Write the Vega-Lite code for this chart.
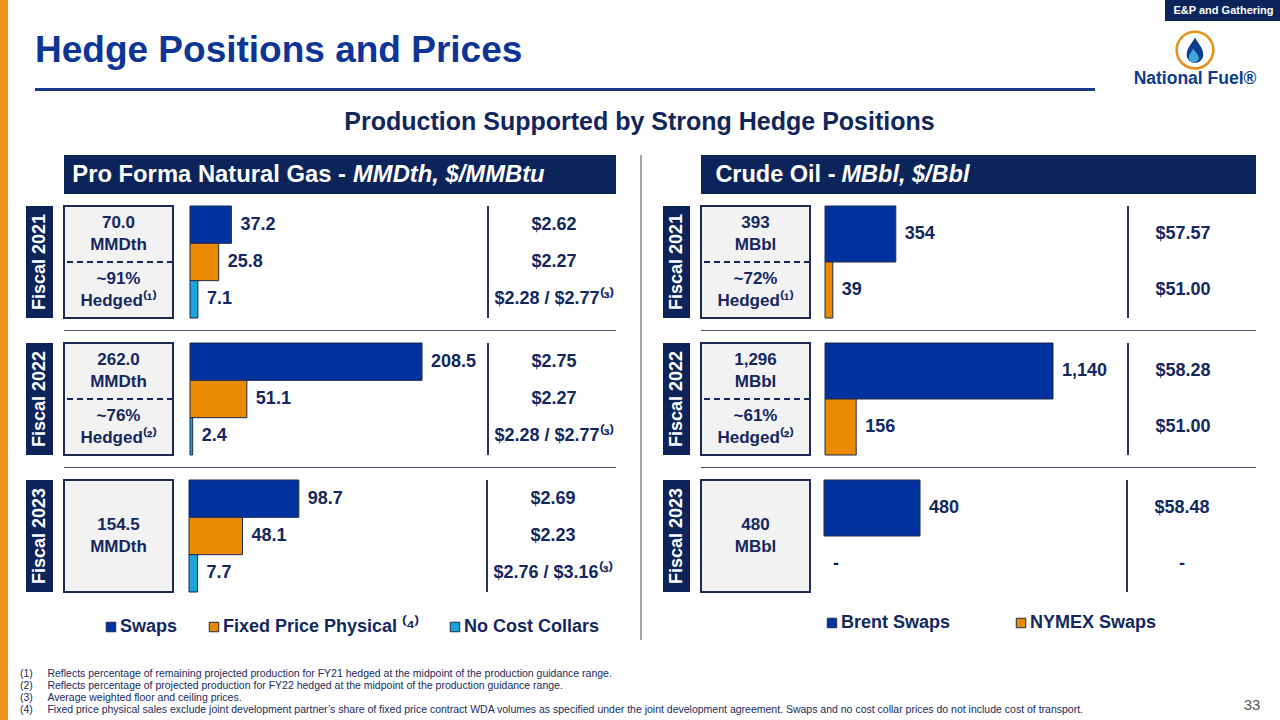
{
 "$schema": "https://vega.github.io/schema/vega-lite/v6.json",
 "padding": 0,
 "background": "white",
 "config": {"view": {"stroke": null}, "font": "Liberation Sans", "concat": {"spacing": 0}},
 "datasets": {
  "gas": [
   {"year": "Fiscal 2021", "series": "Swaps", "volume": 37.2, "price": "$2.62"},
   {"year": "Fiscal 2021", "series": "Fixed Price Physical", "volume": 25.8, "price": "$2.27"},
   {"year": "Fiscal 2021", "series": "No Cost Collars", "volume": 7.1, "price": "$2.28 / $2.77\u207d\u00b3\u207e"},
   {"year": "Fiscal 2022", "series": "Swaps", "volume": 208.5, "price": "$2.75"},
   {"year": "Fiscal 2022", "series": "Fixed Price Physical", "volume": 51.1, "price": "$2.27"},
   {"year": "Fiscal 2022", "series": "No Cost Collars", "volume": 2.4, "price": "$2.28 / $2.77\u207d\u00b3\u207e"},
   {"year": "Fiscal 2023", "series": "Swaps", "volume": 98.7, "price": "$2.69"},
   {"year": "Fiscal 2023", "series": "Fixed Price Physical", "volume": 48.1, "price": "$2.23"},
   {"year": "Fiscal 2023", "series": "No Cost Collars", "volume": 7.7, "price": "$2.76 / $3.16\u207d\u00b3\u207e"}
  ],
  "oil": [
   {"year": "Fiscal 2021", "series": "Brent Swaps", "volume": 354, "price": "$57.57"},
   {"year": "Fiscal 2021", "series": "NYMEX Swaps", "volume": 39, "price": "$51.00"},
   {"year": "Fiscal 2022", "series": "Brent Swaps", "volume": 1140, "price": "$58.28"},
   {"year": "Fiscal 2022", "series": "NYMEX Swaps", "volume": 156, "price": "$51.00"},
   {"year": "Fiscal 2023", "series": "Brent Swaps", "volume": 480, "price": "$58.48"},
   {"year": "Fiscal 2023", "series": "NYMEX Swaps", "volume": 0, "price": "-"}
  ],
  "boxes": [
   {"panel": "gas", "year": "Fiscal 2021", "slot": "top", "text": "70.0\nMMDth"},
   {"panel": "gas", "year": "Fiscal 2021", "slot": "bottom", "text": "~91%\nHedged\u207d\u00b9\u207e"},
   {"panel": "gas", "year": "Fiscal 2022", "slot": "top", "text": "262.0\nMMDth"},
   {"panel": "gas", "year": "Fiscal 2022", "slot": "bottom", "text": "~76%\nHedged\u207d\u00b2\u207e"},
   {"panel": "gas", "year": "Fiscal 2023", "slot": "all", "text": "154.5\nMMDth"},
   {"panel": "oil", "year": "Fiscal 2021", "slot": "top", "text": "393\nMBbl"},
   {"panel": "oil", "year": "Fiscal 2021", "slot": "bottom", "text": "~72%\nHedged\u207d\u00b9\u207e"},
   {"panel": "oil", "year": "Fiscal 2022", "slot": "top", "text": "1,296\nMBbl"},
   {"panel": "oil", "year": "Fiscal 2022", "slot": "bottom", "text": "~61%\nHedged\u207d\u00b2\u207e"},
   {"panel": "oil", "year": "Fiscal 2023", "slot": "all", "text": "480\nMBbl"}
  ],
  "years": [{"year": "Fiscal 2021"}, {"year": "Fiscal 2022"}, {"year": "Fiscal 2023"}],
  "notes": [
   {"k": "1", "note": "(1)\u00a0\u00a0\u00a0\u00a0\u00a0Reflects percentage of remaining projected production for FY21 hedged at the midpoint of the production guidance range."},
   {"k": "2", "note": "(2)\u00a0\u00a0\u00a0\u00a0\u00a0Reflects percentage of projected production for FY22 hedged at the midpoint of the production guidance range."},
   {"k": "3", "note": "(3)\u00a0\u00a0\u00a0\u00a0\u00a0Average weighted floor and ceiling prices."},
   {"k": "4", "note": "(4)\u00a0\u00a0\u00a0\u00a0\u00a0Fixed price physical sales exclude joint development partner\u2019s share of fixed price contract WDA volumes as specified under the joint development agreement. Swaps and no cost collar prices do not include cost of transport."}
  ]
 },
 "hconcat": [
  {"width": 8, "height": 720, "view": {"fill": "#f0921a", "stroke": null}, "data": {"values": []}, "mark": "text"},
  {
   "vconcat": [
    {"hconcat": [
      {"width": 1113, "height": 88, "data": {"values": [{"t": "Hedge Positions and Prices"}]},
       "mark": {"type": "text", "align": "left", "baseline": "alphabetic", "dx": -541.5, "dy": 18, "fontSize": 37, "fontWeight": "bold", "color": "#0d3597"},
       "encoding": {"text": {"field": "t", "type": "nominal"}}},
      {"vconcat": [
        {"hconcat": [
          {"width": 30, "height": 21, "data": {"values": []}, "mark": "text"},
          {"width": 117, "height": 21, "view": {"fill": "#0c2459", "stroke": null}, "data": {"values": [{"t": "E&P and Gathering"}]}, "mark": {"type": "text", "fontSize": 11, "fontWeight": "bold", "color": "white"}, "encoding": {"text": {"field": "t", "type": "nominal"}}}
        ], "spacing": 0},
        {"width": 120, "height": 56,
         "data": {"values": [{"part": "icon"}, {"part": "name", "label": "National Fuel\u00ae"}]},
         "encoding": {"y": {"field": "part", "type": "nominal", "scale": {"type": "point", "domain": ["icon", "name"], "padding": 0.466, "align": 0.852}, "axis": null}},
         "layer": [
          {"transform": [{"filter": "datum.part == 'icon'"}], "mark": {"type": "point", "shape": "circle", "filled": false, "size": 1350, "color": "#e8901e", "strokeWidth": 2.5, "opacity": 1}},
          {"transform": [{"filter": "datum.part == 'icon'"}], "mark": {"type": "point", "shape": "M0,-1 C0.15,-0.6 0.65,-0.2 0.65,0.35 C0.65,0.75 0.35,1 0,1 C-0.35,1 -0.65,0.75 -0.65,0.35 C-0.65,-0.2 -0.15,-0.6 0,-1 Z", "filled": true, "size": 650, "color": "#0d3b8e", "opacity": 1}},
          {"transform": [{"filter": "datum.part == 'icon'"}], "mark": {"type": "point", "shape": "M-0.12,-0.15 C-0.05,0.15 0.3,0.35 0.3,0.6 C0.3,0.82 0.12,0.95 -0.1,0.95 C-0.32,0.95 -0.48,0.8 -0.48,0.58 C-0.48,0.3 -0.2,0.1 -0.12,-0.15 Z", "filled": true, "size": 650, "color": "#41a8df", "opacity": 1}},
          {"transform": [{"filter": "datum.part == 'name'"}], "mark": {"type": "text", "fontSize": 17.5, "fontWeight": "bold", "color": "#0d3b8e"}, "encoding": {"text": {"field": "label", "type": "nominal"}}}
         ]}
      ], "spacing": 5}
    ], "spacing": 0},
    {"hconcat": [
      {"width": 7, "height": 3, "data": {"values": []}, "mark": "text"},
      {"width": 1060, "height": 3, "view": {"fill": "#1b3a8a", "stroke": null}, "data": {"values": []}, "mark": "text"}
    ], "spacing": 8},
    {"width": 1239, "height": 64, "data": {"values": [{"t": "Production Supported by Strong Hedge Positions"}]},
     "mark": {"type": "text", "baseline": "alphabetic", "dy": 7, "fontSize": 25, "fontWeight": "bold", "color": "#13265c"},
     "encoding": {"text": {"field": "t", "type": "nominal"}}},
    {"hconcat": [
     {"width": 1, "height": 1, "data": {"values": []}, "mark": "text"},
     {
     "resolve": {"scale": {"color": "independent"}},
     "spacing": 21,
     "hconcat": [
      {"hconcat": [
        {"vconcat": [
          {"width": 27, "height": 26, "data": {"values": []}, "mark": "text"},
          {"width": 27, "height": 112, "view": {"fill": "#0c2459", "stroke": null}, "data": {"name": "years"}, "transform": [{"filter": "datum.year == 'Fiscal 2021'"}], "mark": {"type": "text", "angle": 270, "fontSize": 18, "fontWeight": "bold", "color": "white"}, "encoding": {"text": {"field": "year", "type": "nominal"}}},
          {"width": 27, "height": 112, "view": {"fill": "#0c2459", "stroke": null}, "data": {"name": "years"}, "transform": [{"filter": "datum.year == 'Fiscal 2022'"}], "mark": {"type": "text", "angle": 270, "fontSize": 18, "fontWeight": "bold", "color": "white"}, "encoding": {"text": {"field": "year", "type": "nominal"}}},
          {"width": 27, "height": 112, "view": {"fill": "#0c2459", "stroke": null}, "data": {"name": "years"}, "transform": [{"filter": "datum.year == 'Fiscal 2023'"}], "mark": {"type": "text", "angle": 270, "fontSize": 18, "fontWeight": "bold", "color": "white"}, "encoding": {"text": {"field": "year", "type": "nominal"}}}
        ], "spacing": 25},
        {"vconcat": [
          {"width": 552, "height": 39, "view": {"fill": "#0c2459", "stroke": null}, "data": {"values": [{"a": "Pro Forma Natural Gas -", "b": "MMDth, $/MMBtu"}]},
           "layer": [
            {"mark": {"type": "text", "align": "right", "dx": 6, "fontSize": 23.8, "fontWeight": "bold", "color": "white"}, "encoding": {"text": {"field": "a", "type": "nominal"}}},
            {"mark": {"type": "text", "align": "left", "dx": 13, "fontSize": 23.8, "fontWeight": "bold", "fontStyle": "italic", "color": "white"}, "encoding": {"text": {"field": "b", "type": "nominal"}}}
           ]},
          {"hconcat": [
            {"width": 109, "height": 112, "view": {"fill": "#f2f2f2", "stroke": "#1c2a55", "strokeWidth": 2}, "data": {"name": "boxes"},
             "transform": [{"filter": "datum.panel == 'gas' && datum.year == 'Fiscal 2021'"}],
             "layer": [
              {"mark": {"type": "text", "lineBreak": "\n", "lineHeight": 22, "dy": -11, "fontSize": 17, "fontWeight": "bold", "color": "#14285f"},
               "encoding": {"y": {"field": "slot", "type": "nominal", "scale": {"type": "band", "domain": ["top", "bottom"], "paddingInner": 0, "paddingOuter": 0}, "axis": null}, "text": {"field": "text", "type": "nominal"}}},
              {"transform": [{"filter": "datum.slot == 'bottom'"}], "mark": {"type": "rule", "strokeDash": [6, 4], "strokeWidth": 2, "color": "#14285f"},
               "encoding": {"y": {"field": "slot", "type": "nominal", "bandPosition": 0, "scale": {"type": "band", "domain": ["top", "bottom"], "paddingInner": 0, "paddingOuter": 0}, "axis": null}}}
             ]},
            {"width": 14, "height": 112, "data": {"values": []}, "mark": "text"},
            {"width": 297, "height": 112, "data": {"name": "gas"}, "transform": [{"filter": "datum.year == 'Fiscal 2021'"}],
             "encoding": {
              "y": {"field": "series", "type": "nominal", "scale": {"type": "band", "domain": ["Swaps", "Fixed Price Physical", "No Cost Collars"], "paddingInner": 0, "paddingOuter": 0}, "axis": null},
              "x": {"field": "volume", "type": "quantitative", "scale": {"domain": [0, 266.9], "nice": false}, "axis": null}},
             "layer": [
              {"transform": [{"filter": "datum.volume > 0"}], "mark": {"type": "bar", "stroke": "#1d2a4d", "strokeWidth": 1},
               "encoding": {"color": {"field": "series", "type": "nominal", "scale": {"domain": ["Swaps", "Fixed Price Physical", "No Cost Collars"], "range": ["#00339f", "#ea8a00", "#1ba3dc"]},
                "legend": {"orient": "none", "legendX": 76, "legendY": 463, "direction": "horizontal", "title": null, "symbolType": "square", "symbolSize": 90, "symbolStrokeColor": "#1d2a4d", "symbolStrokeWidth": 1, "labelFontSize": 18, "labelFontWeight": "bold", "labelColor": "#14285f", "labelFont": "Liberation Sans", "labelOffset": 0, "columnPadding": 27, "padding": 0, "labelLimit": 400, "labelExpr": "datum.label == 'Fixed Price Physical' ? 'Fixed Price Physical \u207d\u2074\u207e' : datum.label"}}}},
              {"mark": {"type": "text", "align": "left", "dx": 9, "fontSize": 18, "fontWeight": "bold", "color": "#14285f"}, "encoding": {"text": {"field": "volume", "type": "quantitative", "format": ".1f"}}}
             ]},
            {"width": 2, "height": 112, "view": {"fill": "#2a3350", "stroke": null}, "data": {"values": []}, "mark": "text"},
            {"width": 130, "height": 112, "data": {"name": "gas"}, "transform": [{"filter": "datum.year == 'Fiscal 2021'"}],
             "mark": {"type": "text", "fontSize": 18, "fontWeight": "bold", "color": "#14285f"},
             "encoding": {"y": {"field": "series", "type": "nominal", "scale": {"type": "band", "domain": ["Swaps", "Fixed Price Physical", "No Cost Collars"], "paddingInner": 0, "paddingOuter": 0}, "axis": null}, "text": {"field": "price", "type": "nominal"}}}
          ], "spacing": 0},
          {"width": 552, "height": 1, "view": {"fill": "#4a5470", "stroke": null}, "data": {"values": []}, "mark": "text"},
          {"hconcat": [
            {"width": 109, "height": 112, "view": {"fill": "#f2f2f2", "stroke": "#1c2a55", "strokeWidth": 2}, "data": {"name": "boxes"},
             "transform": [{"filter": "datum.panel == 'gas' && datum.year == 'Fiscal 2022'"}],
             "layer": [
              {"mark": {"type": "text", "lineBreak": "\n", "lineHeight": 22, "dy": -11, "fontSize": 17, "fontWeight": "bold", "color": "#14285f"},
               "encoding": {"y": {"field": "slot", "type": "nominal", "scale": {"type": "band", "domain": ["top", "bottom"], "paddingInner": 0, "paddingOuter": 0}, "axis": null}, "text": {"field": "text", "type": "nominal"}}},
              {"transform": [{"filter": "datum.slot == 'bottom'"}], "mark": {"type": "rule", "strokeDash": [6, 4], "strokeWidth": 2, "color": "#14285f"},
               "encoding": {"y": {"field": "slot", "type": "nominal", "bandPosition": 0, "scale": {"type": "band", "domain": ["top", "bottom"], "paddingInner": 0, "paddingOuter": 0}, "axis": null}}}
             ]},
            {"width": 14, "height": 112, "data": {"values": []}, "mark": "text"},
            {"width": 297, "height": 112, "data": {"name": "gas"}, "transform": [{"filter": "datum.year == 'Fiscal 2022'"}],
             "encoding": {
              "y": {"field": "series", "type": "nominal", "scale": {"type": "band", "domain": ["Swaps", "Fixed Price Physical", "No Cost Collars"], "paddingInner": 0, "paddingOuter": 0}, "axis": null},
              "x": {"field": "volume", "type": "quantitative", "scale": {"domain": [0, 266.9], "nice": false}, "axis": null}},
             "layer": [
              {"transform": [{"filter": "datum.volume > 0"}], "mark": {"type": "bar", "stroke": "#1d2a4d", "strokeWidth": 1},
               "encoding": {"color": {"field": "series", "type": "nominal", "scale": {"domain": ["Swaps", "Fixed Price Physical", "No Cost Collars"], "range": ["#00339f", "#ea8a00", "#1ba3dc"]},
                "legend": {"orient": "none", "legendX": 76, "legendY": 463, "direction": "horizontal", "title": null, "symbolType": "square", "symbolSize": 90, "symbolStrokeColor": "#1d2a4d", "symbolStrokeWidth": 1, "labelFontSize": 18, "labelFontWeight": "bold", "labelColor": "#14285f", "labelFont": "Liberation Sans", "labelOffset": 0, "columnPadding": 27, "padding": 0, "labelLimit": 400, "labelExpr": "datum.label == 'Fixed Price Physical' ? 'Fixed Price Physical \u207d\u2074\u207e' : datum.label"}}}},
              {"mark": {"type": "text", "align": "left", "dx": 9, "fontSize": 18, "fontWeight": "bold", "color": "#14285f"}, "encoding": {"text": {"field": "volume", "type": "quantitative", "format": ".1f"}}}
             ]},
            {"width": 2, "height": 112, "view": {"fill": "#2a3350", "stroke": null}, "data": {"values": []}, "mark": "text"},
            {"width": 130, "height": 112, "data": {"name": "gas"}, "transform": [{"filter": "datum.year == 'Fiscal 2022'"}],
             "mark": {"type": "text", "fontSize": 18, "fontWeight": "bold", "color": "#14285f"},
             "encoding": {"y": {"field": "series", "type": "nominal", "scale": {"type": "band", "domain": ["Swaps", "Fixed Price Physical", "No Cost Collars"], "paddingInner": 0, "paddingOuter": 0}, "axis": null}, "text": {"field": "price", "type": "nominal"}}}
          ], "spacing": 0},
          {"width": 552, "height": 1, "view": {"fill": "#4a5470", "stroke": null}, "data": {"values": []}, "mark": "text"},
          {"hconcat": [
            {"width": 109, "height": 112, "view": {"fill": "#f2f2f2", "stroke": "#1c2a55", "strokeWidth": 2}, "data": {"name": "boxes"},
             "transform": [{"filter": "datum.panel == 'gas' && datum.year == 'Fiscal 2023'"}],
             "mark": {"type": "text", "lineBreak": "\n", "lineHeight": 22, "dy": -11, "fontSize": 17, "fontWeight": "bold", "color": "#14285f"},
             "encoding": {"y": {"field": "slot", "type": "nominal", "scale": {"type": "band", "domain": ["all"], "paddingInner": 0, "paddingOuter": 0}, "axis": null}, "text": {"field": "text", "type": "nominal"}}},
            {"width": 14, "height": 112, "data": {"values": []}, "mark": "text"},
            {"width": 297, "height": 112, "data": {"name": "gas"}, "transform": [{"filter": "datum.year == 'Fiscal 2023'"}],
             "encoding": {
              "y": {"field": "series", "type": "nominal", "scale": {"type": "band", "domain": ["Swaps", "Fixed Price Physical", "No Cost Collars"], "paddingInner": 0, "paddingOuter": 0}, "axis": null},
              "x": {"field": "volume", "type": "quantitative", "scale": {"domain": [0, 266.9], "nice": false}, "axis": null}},
             "layer": [
              {"transform": [{"filter": "datum.volume > 0"}], "mark": {"type": "bar", "stroke": "#1d2a4d", "strokeWidth": 1},
               "encoding": {"color": {"field": "series", "type": "nominal", "scale": {"domain": ["Swaps", "Fixed Price Physical", "No Cost Collars"], "range": ["#00339f", "#ea8a00", "#1ba3dc"]},
                "legend": {"orient": "none", "legendX": 76, "legendY": 463, "direction": "horizontal", "title": null, "symbolType": "square", "symbolSize": 90, "symbolStrokeColor": "#1d2a4d", "symbolStrokeWidth": 1, "labelFontSize": 18, "labelFontWeight": "bold", "labelColor": "#14285f", "labelFont": "Liberation Sans", "labelOffset": 0, "columnPadding": 27, "padding": 0, "labelLimit": 400, "labelExpr": "datum.label == 'Fixed Price Physical' ? 'Fixed Price Physical \u207d\u2074\u207e' : datum.label"}}}},
              {"mark": {"type": "text", "align": "left", "dx": 9, "fontSize": 18, "fontWeight": "bold", "color": "#14285f"}, "encoding": {"text": {"field": "volume", "type": "quantitative", "format": ".1f"}}}
             ]},
            {"width": 2, "height": 112, "view": {"fill": "#2a3350", "stroke": null}, "data": {"values": []}, "mark": "text"},
            {"width": 130, "height": 112, "data": {"name": "gas"}, "transform": [{"filter": "datum.year == 'Fiscal 2023'"}],
             "mark": {"type": "text", "fontSize": 18, "fontWeight": "bold", "color": "#14285f"},
             "encoding": {"y": {"field": "series", "type": "nominal", "scale": {"type": "band", "domain": ["Swaps", "Fixed Price Physical", "No Cost Collars"], "paddingInner": 0, "paddingOuter": 0}, "axis": null}, "text": {"field": "price", "type": "nominal"}}}
          ], "spacing": 0}
        ], "spacing": 11}
      ], "spacing": 9},
      {"width": 2, "height": 485, "view": {"fill": "#a6a6a6", "stroke": null}, "data": {"values": []}, "mark": "text"},
      {"hconcat": [
        {"vconcat": [
          {"width": 27, "height": 26, "data": {"values": []}, "mark": "text"},
          {"width": 27, "height": 112, "view": {"fill": "#0c2459", "stroke": null}, "data": {"name": "years"}, "transform": [{"filter": "datum.year == 'Fiscal 2021'"}], "mark": {"type": "text", "angle": 270, "fontSize": 18, "fontWeight": "bold", "color": "white"}, "encoding": {"text": {"field": "year", "type": "nominal"}}},
          {"width": 27, "height": 112, "view": {"fill": "#0c2459", "stroke": null}, "data": {"name": "years"}, "transform": [{"filter": "datum.year == 'Fiscal 2022'"}], "mark": {"type": "text", "angle": 270, "fontSize": 18, "fontWeight": "bold", "color": "white"}, "encoding": {"text": {"field": "year", "type": "nominal"}}},
          {"width": 27, "height": 112, "view": {"fill": "#0c2459", "stroke": null}, "data": {"name": "years"}, "transform": [{"filter": "datum.year == 'Fiscal 2023'"}], "mark": {"type": "text", "angle": 270, "fontSize": 18, "fontWeight": "bold", "color": "white"}, "encoding": {"text": {"field": "year", "type": "nominal"}}}
        ], "spacing": 25},
        {"vconcat": [
          {"width": 555, "height": 39, "view": {"fill": "#0c2459", "stroke": null}, "data": {"values": [{"a": "Crude Oil -", "b": "MBbl, $/Bbl"}]},
           "layer": [
            {"mark": {"type": "text", "align": "right", "dx": -143, "fontSize": 23.5, "fontWeight": "bold", "color": "white"}, "encoding": {"text": {"field": "a", "type": "nominal"}}},
            {"mark": {"type": "text", "align": "left", "dx": -137, "fontSize": 23.5, "fontWeight": "bold", "fontStyle": "italic", "color": "white"}, "encoding": {"text": {"field": "b", "type": "nominal"}}}
           ]},
          {"hconcat": [
            {"width": 109, "height": 112, "view": {"fill": "#f2f2f2", "stroke": "#1c2a55", "strokeWidth": 2}, "data": {"name": "boxes"},
             "transform": [{"filter": "datum.panel == 'oil' && datum.year == 'Fiscal 2021'"}],
             "layer": [
              {"mark": {"type": "text", "lineBreak": "\n", "lineHeight": 22, "dy": -11, "fontSize": 17, "fontWeight": "bold", "color": "#14285f"},
               "encoding": {"y": {"field": "slot", "type": "nominal", "scale": {"type": "band", "domain": ["top", "bottom"], "paddingInner": 0, "paddingOuter": 0}, "axis": null}, "text": {"field": "text", "type": "nominal"}}},
              {"transform": [{"filter": "datum.slot == 'bottom'"}], "mark": {"type": "rule", "strokeDash": [6, 4], "strokeWidth": 2, "color": "#14285f"},
               "encoding": {"y": {"field": "slot", "type": "nominal", "bandPosition": 0, "scale": {"type": "band", "domain": ["top", "bottom"], "paddingInner": 0, "paddingOuter": 0}, "axis": null}}}
             ]},
            {"width": 12, "height": 112, "data": {"values": []}, "mark": "text"},
            {"width": 302, "height": 112, "data": {"name": "oil"}, "transform": [{"filter": "datum.year == 'Fiscal 2021'"}],
             "encoding": {
              "y": {"field": "series", "type": "nominal", "scale": {"type": "band", "domain": ["Brent Swaps", "NYMEX Swaps"], "paddingInner": 0, "paddingOuter": 0}, "axis": null},
              "x": {"field": "volume", "type": "quantitative", "scale": {"domain": [0, 1510], "nice": false}, "axis": null}},
             "layer": [
              {"transform": [{"filter": "datum.volume > 0"}], "mark": {"type": "bar", "stroke": "#1d2a4d", "strokeWidth": 1},
               "encoding": {"color": {"field": "series", "type": "nominal", "scale": {"domain": ["Brent Swaps", "NYMEX Swaps"], "range": ["#00339f", "#ea8a00"]},
                "legend": {"orient": "none", "legendX": 160, "legendY": 459, "direction": "horizontal", "title": null, "symbolType": "square", "symbolSize": 90, "symbolStrokeColor": "#1d2a4d", "symbolStrokeWidth": 1, "labelFontSize": 18, "labelFontWeight": "bold", "labelColor": "#14285f", "labelFont": "Liberation Sans", "labelOffset": 0, "columnPadding": 61, "padding": 0, "labelLimit": 400}}}},
              {"mark": {"type": "text", "align": "left", "dx": 9, "fontSize": 18, "fontWeight": "bold", "color": "#14285f"}, "encoding": {"text": {"condition": {"test": "datum.volume == 0", "value": "-"}, "field": "volume", "type": "quantitative", "format": ",.0f"}}}
             ]},
            {"width": 2, "height": 112, "view": {"fill": "#2a3350", "stroke": null}, "data": {"values": []}, "mark": "text"},
            {"width": 108, "height": 112, "data": {"name": "oil"}, "transform": [{"filter": "datum.year == 'Fiscal 2021'"}],
             "mark": {"type": "text", "fontSize": 18, "fontWeight": "bold", "color": "#14285f"},
             "encoding": {"y": {"field": "series", "type": "nominal", "scale": {"type": "band", "domain": ["Brent Swaps", "NYMEX Swaps"], "paddingInner": 0, "paddingOuter": 0}, "axis": null}, "text": {"field": "price", "type": "nominal"}}}
          ], "spacing": 0},
          {"width": 555, "height": 1, "view": {"fill": "#4a5470", "stroke": null}, "data": {"values": []}, "mark": "text"},
          {"hconcat": [
            {"width": 109, "height": 112, "view": {"fill": "#f2f2f2", "stroke": "#1c2a55", "strokeWidth": 2}, "data": {"name": "boxes"},
             "transform": [{"filter": "datum.panel == 'oil' && datum.year == 'Fiscal 2022'"}],
             "layer": [
              {"mark": {"type": "text", "lineBreak": "\n", "lineHeight": 22, "dy": -11, "fontSize": 17, "fontWeight": "bold", "color": "#14285f"},
               "encoding": {"y": {"field": "slot", "type": "nominal", "scale": {"type": "band", "domain": ["top", "bottom"], "paddingInner": 0, "paddingOuter": 0}, "axis": null}, "text": {"field": "text", "type": "nominal"}}},
              {"transform": [{"filter": "datum.slot == 'bottom'"}], "mark": {"type": "rule", "strokeDash": [6, 4], "strokeWidth": 2, "color": "#14285f"},
               "encoding": {"y": {"field": "slot", "type": "nominal", "bandPosition": 0, "scale": {"type": "band", "domain": ["top", "bottom"], "paddingInner": 0, "paddingOuter": 0}, "axis": null}}}
             ]},
            {"width": 12, "height": 112, "data": {"values": []}, "mark": "text"},
            {"width": 302, "height": 112, "data": {"name": "oil"}, "transform": [{"filter": "datum.year == 'Fiscal 2022'"}],
             "encoding": {
              "y": {"field": "series", "type": "nominal", "scale": {"type": "band", "domain": ["Brent Swaps", "NYMEX Swaps"], "paddingInner": 0, "paddingOuter": 0}, "axis": null},
              "x": {"field": "volume", "type": "quantitative", "scale": {"domain": [0, 1510], "nice": false}, "axis": null}},
             "layer": [
              {"transform": [{"filter": "datum.volume > 0"}], "mark": {"type": "bar", "stroke": "#1d2a4d", "strokeWidth": 1},
               "encoding": {"color": {"field": "series", "type": "nominal", "scale": {"domain": ["Brent Swaps", "NYMEX Swaps"], "range": ["#00339f", "#ea8a00"]},
                "legend": {"orient": "none", "legendX": 160, "legendY": 459, "direction": "horizontal", "title": null, "symbolType": "square", "symbolSize": 90, "symbolStrokeColor": "#1d2a4d", "symbolStrokeWidth": 1, "labelFontSize": 18, "labelFontWeight": "bold", "labelColor": "#14285f", "labelFont": "Liberation Sans", "labelOffset": 0, "columnPadding": 61, "padding": 0, "labelLimit": 400}}}},
              {"mark": {"type": "text", "align": "left", "dx": 9, "fontSize": 18, "fontWeight": "bold", "color": "#14285f"}, "encoding": {"text": {"condition": {"test": "datum.volume == 0", "value": "-"}, "field": "volume", "type": "quantitative", "format": ",.0f"}}}
             ]},
            {"width": 2, "height": 112, "view": {"fill": "#2a3350", "stroke": null}, "data": {"values": []}, "mark": "text"},
            {"width": 108, "height": 112, "data": {"name": "oil"}, "transform": [{"filter": "datum.year == 'Fiscal 2022'"}],
             "mark": {"type": "text", "fontSize": 18, "fontWeight": "bold", "color": "#14285f"},
             "encoding": {"y": {"field": "series", "type": "nominal", "scale": {"type": "band", "domain": ["Brent Swaps", "NYMEX Swaps"], "paddingInner": 0, "paddingOuter": 0}, "axis": null}, "text": {"field": "price", "type": "nominal"}}}
          ], "spacing": 0},
          {"width": 555, "height": 1, "view": {"fill": "#4a5470", "stroke": null}, "data": {"values": []}, "mark": "text"},
          {"hconcat": [
            {"width": 109, "height": 112, "view": {"fill": "#f2f2f2", "stroke": "#1c2a55", "strokeWidth": 2}, "data": {"name": "boxes"},
             "transform": [{"filter": "datum.panel == 'oil' && datum.year == 'Fiscal 2023'"}],
             "mark": {"type": "text", "lineBreak": "\n", "lineHeight": 22, "dy": -11, "fontSize": 17, "fontWeight": "bold", "color": "#14285f"},
             "encoding": {"y": {"field": "slot", "type": "nominal", "scale": {"type": "band", "domain": ["all"], "paddingInner": 0, "paddingOuter": 0}, "axis": null}, "text": {"field": "text", "type": "nominal"}}},
            {"width": 12, "height": 112, "data": {"values": []}, "mark": "text"},
            {"width": 302, "height": 112, "data": {"name": "oil"}, "transform": [{"filter": "datum.year == 'Fiscal 2023'"}],
             "encoding": {
              "y": {"field": "series", "type": "nominal", "scale": {"type": "band", "domain": ["Brent Swaps", "NYMEX Swaps"], "paddingInner": 0, "paddingOuter": 0}, "axis": null},
              "x": {"field": "volume", "type": "quantitative", "scale": {"domain": [0, 1510], "nice": false}, "axis": null}},
             "layer": [
              {"transform": [{"filter": "datum.volume > 0"}], "mark": {"type": "bar", "stroke": "#1d2a4d", "strokeWidth": 1},
               "encoding": {"color": {"field": "series", "type": "nominal", "scale": {"domain": ["Brent Swaps", "NYMEX Swaps"], "range": ["#00339f", "#ea8a00"]},
                "legend": {"orient": "none", "legendX": 160, "legendY": 459, "direction": "horizontal", "title": null, "symbolType": "square", "symbolSize": 90, "symbolStrokeColor": "#1d2a4d", "symbolStrokeWidth": 1, "labelFontSize": 18, "labelFontWeight": "bold", "labelColor": "#14285f", "labelFont": "Liberation Sans", "labelOffset": 0, "columnPadding": 61, "padding": 0, "labelLimit": 400}}}},
              {"mark": {"type": "text", "align": "left", "dx": 9, "fontSize": 18, "fontWeight": "bold", "color": "#14285f"}, "encoding": {"text": {"condition": {"test": "datum.volume == 0", "value": "-"}, "field": "volume", "type": "quantitative", "format": ",.0f"}}}
             ]},
            {"width": 2, "height": 112, "view": {"fill": "#2a3350", "stroke": null}, "data": {"values": []}, "mark": "text"},
            {"width": 108, "height": 112, "data": {"name": "oil"}, "transform": [{"filter": "datum.year == 'Fiscal 2023'"}],
             "mark": {"type": "text", "fontSize": 18, "fontWeight": "bold", "color": "#14285f"},
             "encoding": {"y": {"field": "series", "type": "nominal", "scale": {"type": "band", "domain": ["Brent Swaps", "NYMEX Swaps"], "paddingInner": 0, "paddingOuter": 0}, "axis": null}, "text": {"field": "price", "type": "nominal"}}}
          ], "spacing": 0}
        ], "spacing": 11}
      ], "spacing": 9}
     ]
    }
    ], "spacing": 5},
    {"width": 1, "height": 28, "data": {"values": []}, "mark": "text"},
    {"hconcat": [
      {"width": 1217, "height": 48, "data": {"name": "notes"},
       "mark": {"type": "text", "align": "left", "dx": -608.5, "fontSize": 10.5, "color": "#1a2b5c"},
       "encoding": {
        "y": {"field": "k", "type": "ordinal", "scale": {"type": "band", "paddingInner": 0, "paddingOuter": 0}, "axis": null},
        "text": {"field": "note", "type": "nominal"}}},
      {"width": 30, "height": 48, "data": {"values": [{"p": "33"}]},
       "mark": {"type": "text", "baseline": "alphabetic", "dy": 18, "fontSize": 15, "color": "#595959"},
       "encoding": {"text": {"field": "p", "type": "nominal"}}}
    ], "spacing": 0}
   ],
   "spacing": 0
  }
 ],
 "spacing": 12
}
